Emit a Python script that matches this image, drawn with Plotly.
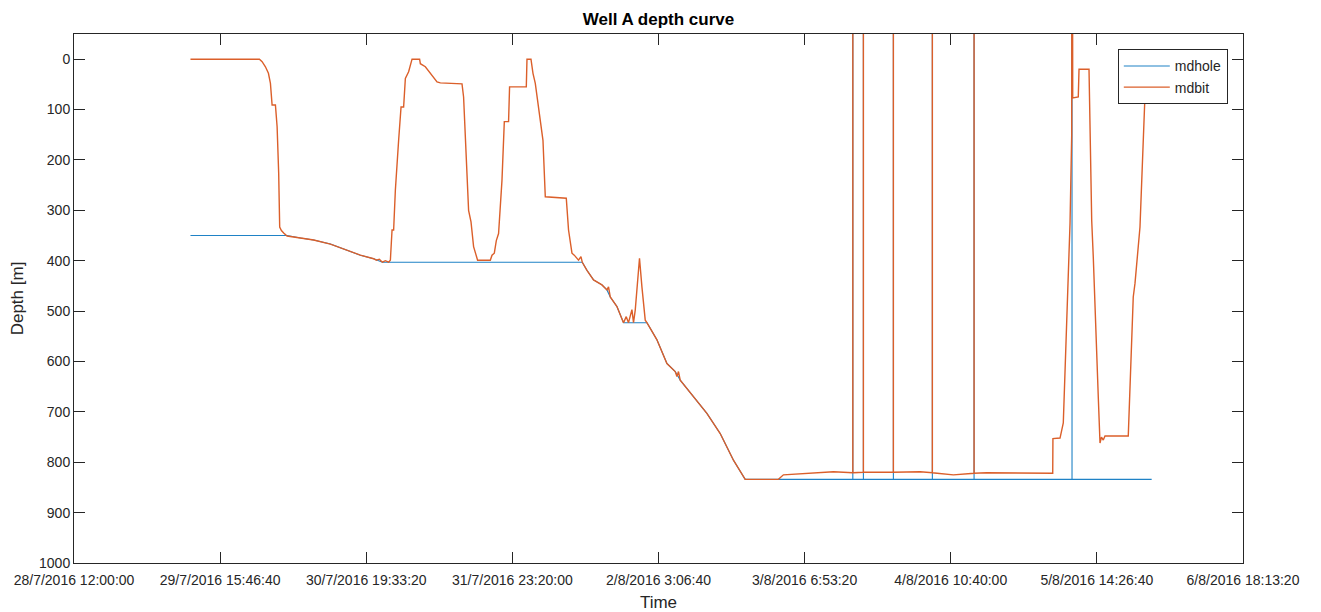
import pandas as pd
import plotly.graph_objects as go

# ---------------- data ----------------
start_time = pd.Timestamp("2016-07-28 12:00:00")
NULL_DEPTH = -999.25  # logger null value (spikes run off the top of the axis)

# mdhole: elapsed hours since start_time, depth [m]
hole_hours = [22.14, 40.51, 43.04, 45.56, 48.74, 51.91, 54.44, 56.96, 58.62,
              96.37, 96.62, 97.51, 98.76, 100.36, 101.31, 101.94, 103.21, 104.46,
              108.91, 109.54, 110.81, 112.71, 114.29, 115.24, 117.76, 120.31,
              122.84, 125.36, 127.59,
              148.05, 148.05, 148.05, 150.06, 150.06, 150.06, 155.76, 155.76, 155.76,
              163.17, 163.17, 163.17, 171.10, 171.10, 171.10, 189.72, 189.72, 189.72,
              204.86]
hole_depth = [350, 350, 355, 359, 367, 379, 389, 396, 403,
              403, 403, 419, 438, 448, 458, 472, 491, 523,
              523, 534, 557, 604, 620, 637, 670, 703,
              743, 796, 834,
              834, NULL_DEPTH, 834, 834, NULL_DEPTH, 834, 834, NULL_DEPTH, 834,
              834, NULL_DEPTH, 834, 834, NULL_DEPTH, 834, 834, NULL_DEPTH, 834,
              834]

# mdbit: elapsed hours since start_time, depth [m]
bit_hours = [22.14, 35.25, 35.76, 36.39, 36.96, 37.34, 37.66, 38.29, 38.61, 38.91,
             39.10, 39.43, 39.86, 40.51, 43.04, 45.56, 48.74, 51.91, 54.44, 56.96,
             57.48, 58.05, 58.62, 59.19, 59.81, 60.14, 60.46, 60.76, 61.09, 61.71,
             62.17, 62.66, 62.99, 63.61, 64.26, 65.70, 65.84, 66.79, 67.41, 68.06,
             69.01, 69.64, 73.76, 74.06, 74.58, 75.01, 75.47, 75.96, 76.72, 79.14,
             79.46, 79.90, 80.28, 80.71, 81.36, 81.80, 82.61, 82.80, 85.98, 86.11,
             86.87, 87.25, 87.69, 88.50, 89.15, 89.59, 93.58, 94.01, 94.34, 94.66,
             95.10, 95.91, 96.37, 96.62, 97.51, 98.76, 100.36, 101.31, 101.61, 101.94,
             103.21, 104.46, 104.98, 105.41, 106.06, 106.36, 106.69, 107.01, 107.50, 107.96,
             108.59, 108.91, 109.54, 110.81, 112.71, 114.29, 114.61, 114.91, 115.24, 117.76,
             120.31, 122.84, 125.36, 127.59, 133.91, 134.86, 144.36,
             148.05, 148.05, 148.05, 150.06, 150.06, 150.06, 155.76, 155.76, 155.76,
             160.84, 163.17, 163.17, 163.17, 167.16, 171.10, 171.10, 171.10,
             173.51, 183.64, 186.05, 186.09, 187.44, 188.06, 188.71, 189.34, 189.66,
             189.72, 189.85, 190.91, 191.05, 192.95, 193.46, 193.76, 194.71, 195.04,
             195.32, 195.66, 195.99, 200.41, 201.36, 201.69, 202.64, 203.15, 203.59,
             203.78]
bit_depth = [0, 0, 5, 15, 28, 48, 91, 91, 134, 227,
             333, 340, 345, 351, 355, 359, 367, 379, 389, 396,
             399, 397, 403, 400, 403, 399, 339, 339, 260, 161,
             95, 95, 38, 25, 0, 0, 9, 15, 23, 32,
             45, 47, 49, 75, 194, 300, 323, 372, 399, 399,
             389, 385, 360, 346, 240, 124, 124, 55, 55, 0,
             0, 28, 48, 108, 161, 273, 276, 339, 359, 385,
             389, 399, 392, 403, 419, 438, 448, 458, 452, 472,
             491, 523, 511, 523, 497, 523, 498, 458, 395, 452,
             518, 523, 534, 557, 604, 620, 630, 620, 637, 670,
             703, 743, 796, 834, 834, 825, 819,
             821, NULL_DEPTH, 821, 820, NULL_DEPTH, 820, 820, NULL_DEPTH, 820,
             819, 821, NULL_DEPTH, 821, 825, 822, NULL_DEPTH, 822,
             821, 822, 822, 753, 752, 722, 538, 326, 150,
             NULL_DEPTH, 77, 75, 20, 20, 320, 392, 670, 762,
             750, 756, 748, 748, 472, 445, 333, 200, 67,
             20]

x_range = ["2016-07-28 12:00:00", "2016-08-06 18:13:20"]
x_tick_times = ["2016-07-28 12:00:00", "2016-07-29 15:46:40", "2016-07-30 19:33:20",
                "2016-07-31 23:20:00", "2016-08-02 03:06:40", "2016-08-03 06:53:20",
                "2016-08-04 10:40:00", "2016-08-05 14:26:40", "2016-08-06 18:13:20"]
x_tick_labels = ["28/7/2016 12:00:00", "29/7/2016 15:46:40", "30/7/2016 19:33:20",
                 "31/7/2016 23:20:00", "2/8/2016 3:06:40", "3/8/2016 6:53:20",
                 "4/8/2016 10:40:00", "5/8/2016 14:26:40", "6/8/2016 18:13:20"]
depth_ticks = [0, 100, 200, 300, 400, 500, 600, 700, 800, 900, 1000]
depth_range = [1000, -50]

# ---------------- figure ----------------
hole_time = start_time + pd.to_timedelta(hole_hours, unit="h")
bit_time = start_time + pd.to_timedelta(bit_hours, unit="h")

AX = "#262626"
fig = go.Figure()
fig.add_trace(go.Scatter(x=hole_time, y=hole_depth, mode="lines", name="mdhole",
                         line=dict(color="#1f82c6", width=1.1)))
fig.add_trace(go.Scatter(x=bit_time, y=bit_depth, mode="lines", name="mdbit",
                         line=dict(color="#db5f2a", width=1.4)))

axis_common = dict(showline=True, linecolor=AX, linewidth=1, mirror="ticks",
                   ticks="inside", ticklen=11, tickwidth=1, tickcolor=AX,
                   showgrid=False, zeroline=False,
                   tickfont=dict(size=14, color=AX))

fig.update_xaxes(type="date", range=x_range, tickvals=x_tick_times, ticktext=x_tick_labels,
                 ticklabelstandoff=4,
                 title=dict(text="Time", font=dict(size=17, color=AX), standoff=17),
                 **axis_common)
fig.update_yaxes(range=depth_range, tickvals=depth_ticks,
                 title=dict(text="Depth [m]", font=dict(size=17, color=AX), standoff=11),
                 **axis_common)

fig.update_layout(
    width=1321, height=612,
    margin=dict(l=74, r=78, t=34, b=49, autoexpand=False),
    paper_bgcolor="white", plot_bgcolor="white",
    font=dict(family="Liberation Sans, Arial, sans-serif", size=14, color=AX),
    title=dict(text="<b>Well A depth curve</b>", x=0.5, xref="paper", xanchor="center",
               y=1 - 19 / 612, yref="container", yanchor="middle",
               font=dict(size=17, color="#000000")),
    legend=dict(x=0.987, xanchor="right", y=0.971, yanchor="top",
                bordercolor=AX, borderwidth=1, bgcolor="white", itemwidth=46,
                font=dict(size=14, color=AX)),
    showlegend=True,
)

fig.write_html("out.html")
